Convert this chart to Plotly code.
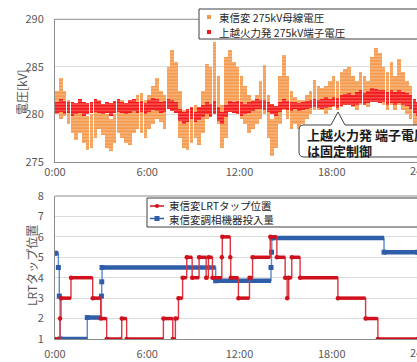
import plotly.graph_objects as go

W, H = 417, 362

# ---------------- top chart: 15-minute bins (start hour), spread of scattered 1-min values
HOURS = [0.0, 0.25, 0.5, 0.75, 1.0, 1.25, 1.5, 1.75, 2.0, 2.25, 2.5, 2.75, 3.0, 3.25, 3.5, 3.75,
         4.0, 4.25, 4.5, 4.75, 5.0, 5.25, 5.5, 5.75, 6.0, 6.25, 6.5, 6.75, 7.0, 7.25, 7.5, 7.75,
         8.0, 8.25, 8.5, 8.75, 9.0, 9.25, 9.5, 9.75, 10.0, 10.25, 10.5, 10.75, 11.0, 11.25, 11.5, 11.75,
         12.0, 12.25, 12.5, 12.75, 13.0, 13.25, 13.5, 13.75, 14.0, 14.25, 14.5, 14.75, 15.0, 15.25, 15.5, 15.75,
         16.0, 16.25, 16.5, 16.75, 17.0, 17.25, 17.5, 17.75, 18.0, 18.25, 18.5, 18.75, 19.0, 19.25, 19.5, 19.75,
         20.0, 20.25, 20.5, 20.75, 21.0, 21.25, 21.5, 21.75, 22.0, 22.25, 22.5, 22.75, 23.0, 23.25, 23.5]

# 東信変 275kV母線電圧 (low / high per bin)
TOSHIN_LO = [280.0, 279.5, 279.8, 279.0, 278.0, 277.3, 278.0, 277.0, 276.3, 276.5, 277.5, 278.5, 277.8, 276.5, 276.2, 277.0,
             278.0, 277.5, 277.0, 276.8, 278.0, 278.5, 278.0, 277.5, 278.5, 279.0, 279.5, 279.2, 278.5, 281.0, 281.5, 280.5,
             277.5, 276.5, 276.3, 277.0, 277.5, 276.8, 278.0, 279.5, 280.0, 281.0, 279.0, 276.5, 277.5, 280.5, 281.0, 280.5,
             279.5, 279.0, 278.0, 278.5, 279.0, 279.5, 280.0, 277.5, 275.6, 276.5, 279.0, 280.5, 279.5, 278.5, 279.0, 278.5,
             279.0, 279.5, 280.0, 280.5, 280.5, 280.5, 280.0, 280.5, 280.8, 280.5, 280.8, 281.0, 281.0, 280.8, 280.5, 281.0,
             281.0, 280.8, 281.5, 282.0, 281.5, 281.0, 280.5, 281.0, 280.5, 281.0, 280.5, 280.0, 279.5, 278.0, 277.0]
TOSHIN_HI = [282.5, 283.8, 282.5, 281.5, 281.3, 280.8, 281.0, 280.5, 279.8, 280.0, 280.8, 281.5, 280.5, 280.0, 279.5, 280.0,
             281.0, 281.5, 281.0, 280.5, 281.5, 282.0, 282.3, 281.5, 282.0, 283.0, 283.8, 282.5, 282.0, 285.0, 286.8, 285.5,
             282.5, 280.5, 280.0, 280.8, 281.0, 280.5, 282.5, 285.3, 285.0, 287.6, 284.0, 281.0, 286.0, 286.8, 285.5, 285.0,
             284.0, 283.0, 282.0, 281.5, 282.0, 283.5, 285.2, 282.0, 279.5, 280.0, 284.0, 286.3, 284.0, 282.5, 281.8, 281.5,
             281.5, 282.0, 282.5, 283.6, 283.0, 282.8, 283.0, 283.5, 284.0, 283.5, 284.5, 284.8, 285.0, 284.0, 283.5, 284.5,
             284.0, 283.5, 286.0, 287.0, 286.5, 285.0, 284.5, 285.5, 284.0, 285.8, 284.5, 283.5, 283.0, 281.5, 280.5]

# 上越火力発 275kV端子電圧 (low / high per bin)
JOETSU_LO = [280.2, 280.3, 280.0, 280.2, 279.8, 280.0, 280.2, 279.8, 280.0, 280.2, 280.3, 280.2, 280.0, 280.2, 279.8, 280.2,
             280.3, 280.2, 280.0, 280.2, 280.4, 280.2, 280.3, 280.0, 280.3, 280.5, 280.4, 280.2, 280.3, 280.6, 280.4, 280.2,
             279.3, 279.0, 279.2, 279.5, 279.2, 279.4, 279.7, 280.0, 279.7, 280.0, 279.3, 279.0, 279.7, 280.3, 280.2, 280.0,
             279.8, 280.0, 280.2, 280.4, 280.6, 280.6, 280.5, 280.3, 280.0, 279.8, 280.3, 280.6, 280.5, 280.4, 280.6, 280.4,
             280.5, 280.6, 280.7, 280.8, 280.7, 280.6, 280.7, 280.8, 280.9, 280.7, 280.9, 281.0, 281.0, 280.9, 281.0, 281.2,
             281.0, 281.2, 281.3, 281.3, 281.2, 281.3, 281.0, 281.2, 281.0, 281.2, 281.0, 280.9, 280.6, 280.2, 279.8]
JOETSU_HI = [281.3, 281.6, 281.4, 281.3, 281.3, 281.2, 281.6, 281.3, 281.2, 281.3, 281.6, 281.4, 281.1, 281.3, 281.2, 281.4,
             281.6, 281.3, 281.2, 281.5, 281.6, 281.3, 281.4, 281.2, 281.5, 281.7, 281.6, 281.3, 281.4, 281.6, 281.5, 281.3,
             280.6, 280.3, 280.6, 280.8, 280.3, 280.8, 281.0, 281.3, 281.1, 281.4, 280.8, 280.3, 281.0, 281.4, 281.3, 281.4,
             281.3, 281.1, 281.3, 281.4, 281.6, 281.5, 281.5, 281.3, 281.1, 280.9, 281.3, 281.6, 281.4, 281.3, 281.3, 281.2,
             281.3, 281.4, 281.5, 281.6, 281.5, 281.6, 281.8, 281.6, 281.8, 281.7, 282.0, 282.1, 282.3, 282.0, 282.4, 282.6,
             282.3, 282.5, 282.8, 282.7, 282.6, 282.6, 282.4, 282.6, 282.4, 282.6, 282.4, 282.3, 282.0, 281.6, 281.3]

# ---------------- bottom chart: step series (time of change [h], value)
LRT_T = [0, 0.33, 0.39, 1.04, 2.45, 2.97, 3.36, 4.34, 4.66, 7.05, 7.66, 7.83, 8.03, 8.30, 8.57, 8.92,
         9.37, 9.83, 9.98, 10.24, 10.85, 10.88, 11.40, 11.43, 11.93, 12.65, 12.85, 14.00, 14.43, 14.97,
         15.10, 15.20, 15.40, 15.94, 18.40, 20.20, 21.00, 23.60]
LRT_V = [1, 2, 3, 4, 3, 2, 1, 2, 1, 2, 1, 2, 3, 4, 5, 4,
         5, 4, 5, 4, 5, 6, 5, 4, 3, 4, 5, 6, 5, 4,
         3, 4, 5, 4, 3, 2, 1, 1]
SC_T = [0, 0.22, 0.28, 0.33, 2.10, 3.02, 3.04, 3.06, 10.45, 14.05, 14.08, 14.10, 21.40, 23.60]
SC_V = [5.2, 4.5, 3.1, 1.0, 2.05, 3.1, 3.8, 4.5, 3.85, 4.5, 5.25, 5.95, 5.25, 5.25]

X_TICKS = [0, 6, 12, 18]
X_LABELS = ["0:00", "6:00", "12:00", "18:00"]
TOP_YTICKS = [275, 280, 285, 290]
BOT_YTICKS = [1, 2, 3, 4, 5, 6, 7, 8]

NAME_TOSHIN = "東信変 275kV母線電圧"
NAME_JOETSU = "上越火力発 275kV端子電圧"
NAME_LRT = "東信変LRTタップ位置"
NAME_SC = "東信変調相機器投入量"
CALLOUT = ["上越火力発 端子電圧", "は固定制御"]

ORANGE = "#F59B50"
RED_PT = "#F21A1A"
RED_H = "#D0101C"
RED_V = "#DD3540"
BLUE_H = "#2F5EA8"
BLUE_V = "#5A8BD0"
AXIS = "#8C8C8C"
GRID = "#DCDCDC"
TXT = "#595959"
FONT = "Noto Sans CJK JP"

# pixel geometry helpers
PL, PR = 55, 417            # plot left / visible right
PX_PER_H = 15.375           # 0:00 at x=55, 24:00 at x=424 (cropped)
X_END = (PR - PL) / PX_PER_H


def px(x):
    return x / W


def py(y):
    return (H - y) / H


fig = go.Figure()

dots = dict(shape="-", fgcolor="white", size=3.2, solidity=0.22, fillmode="overlay")
fig.add_trace(go.Bar(x=HOURS, y=[h - l for l, h in zip(TOSHIN_LO, TOSHIN_HI)], base=TOSHIN_LO,
                     width=0.235, offset=0.008,
                     marker=dict(color=ORANGE, line=dict(width=0), pattern=dots),
                     name=NAME_TOSHIN, showlegend=False, xaxis="x", yaxis="y"))
fig.add_trace(go.Bar(x=HOURS, y=[h - l for l, h in zip(JOETSU_LO, JOETSU_HI)], base=JOETSU_LO,
                     width=0.235, offset=0.008,
                     marker=dict(color=RED_PT, line=dict(width=0), pattern=dots),
                     name=NAME_JOETSU, showlegend=False, xaxis="x", yaxis="y"))


def step_traces(T, V, col_h, col_v, wh, symbol, msize, name):
    hx, hy = [], []
    for i in range(len(T) - 1):
        hx += [T[i], T[i + 1], None]
        hy += [V[i], V[i], None]
    return [
        go.Scatter(x=T, y=V, mode="lines", line=dict(color=col_v, width=1.4, shape="hv"),
                   showlegend=False, name=name, xaxis="x2", yaxis="y2", hoverinfo="skip"),
        go.Scatter(x=hx, y=hy, mode="lines", line=dict(color=col_h, width=wh),
                   showlegend=False, name=name, xaxis="x2", yaxis="y2", hoverinfo="skip"),
        go.Scatter(x=T, y=V, mode="markers", marker=dict(color=col_h, size=msize, symbol=symbol),
                   showlegend=False, name=name, xaxis="x2", yaxis="y2"),
    ]


for tr in step_traces(SC_T, SC_V, BLUE_H, BLUE_V, 4.5, "square", 5, NAME_SC):
    fig.add_trace(tr)
for tr in step_traces(LRT_T, LRT_V, RED_H, RED_V, 3.5, "circle", 4.5, NAME_LRT):
    fig.add_trace(tr)

tickfont = dict(family=FONT, size=11, color=TXT)
xcommon = dict(range=[0, X_END], domain=[px(PL), 1], tickvals=X_TICKS, ticktext=X_LABELS,
               showgrid=False, zeroline=False, showline=True, linecolor=AXIS, linewidth=1,
               ticks="", tickfont=tickfont, ticklabeloverflow="allow", fixedrange=True)

fig.update_layout(
    width=W, height=H, margin=dict(l=0, r=0, t=0, b=0, autoexpand=False),
    paper_bgcolor="white", plot_bgcolor="white", barmode="overlay", bargap=0,
    font=dict(family=FONT, size=11, color=TXT), showlegend=False,
    xaxis=dict(**xcommon, anchor="y", ticklabelstandoff=0),
    yaxis=dict(domain=[py(162), py(19.3)], range=[275, 290], tickvals=TOP_YTICKS,
               showgrid=True, gridcolor=GRID, zeroline=False, showline=True, linecolor=AXIS,
               ticks="", tickfont=tickfont, ticklabelstandoff=8, anchor="x", fixedrange=True),
    xaxis2=dict(**xcommon, anchor="y2", ticklabelstandoff=5),
    yaxis2=dict(domain=[py(339), py(196)], range=[1, 8], tickvals=BOT_YTICKS,
                showgrid=True, gridcolor=GRID, zeroline=False, showline=True, linecolor=AXIS,
                ticks="", tickfont=tickfont, ticklabelstandoff=8, anchor="x2", fixedrange=True),
)

shapes = []
shapes.append(dict(type="line", xref="paper", yref="paper", x0=px(PL), x1=1.1, y0=py(19.3), y1=py(19.3),
                   line=dict(color=AXIS, width=1), layer="above"))
shapes.append(dict(type="line", xref="paper", yref="paper", x0=px(PL), x1=1.1, y0=py(196), y1=py(196),
                   line=dict(color=AXIS, width=1), layer="above"))
shapes.append(dict(type="rect", xref="paper", yref="paper", x0=px(199), x1=px(440), y0=py(39), y1=py(9),
                   fillcolor="white", line=dict(color="#404040", width=1), layer="above"))
shapes.append(dict(type="rect", xref="paper", yref="paper", x0=px(147), x1=px(440), y0=py(227), y1=py(198),
                   fillcolor="white", line=dict(color="#404040", width=1), layer="above"))
for yy, col in [(17, ORANGE), (32, RED_PT)]:
    shapes.append(dict(type="rect", xref="paper", yref="paper", x0=px(207), x1=px(211), y0=py(yy + 2), y1=py(yy - 2),
                       fillcolor=col, line=dict(width=0), layer="above"))
shapes.append(dict(type="line", xref="paper", yref="paper", x0=px(150), x1=px(164), y0=py(206), y1=py(206),
                   line=dict(color=RED_H, width=1.5), layer="above"))
shapes.append(dict(type="circle", xref="paper", yref="paper", x0=px(155), x1=px(159), y0=py(208), y1=py(204),
                   fillcolor=RED_H, line=dict(width=0), layer="above"))
shapes.append(dict(type="line", xref="paper", yref="paper", x0=px(150), x1=px(164), y0=py(218.5), y1=py(218.5),
                   line=dict(color=BLUE_H, width=1.5), layer="above"))
shapes.append(dict(type="rect", xref="paper", yref="paper", x0=px(154.5), x1=px(159.5), y0=py(221), y1=py(216),
                   fillcolor=BLUE_H, line=dict(width=0), layer="above"))

pts = [("M", 304, 125), ("L", 331, 125), ("L", 338, 112), ("L", 345, 125), ("L", 440, 125),
       ("L", 440, 157), ("L", 304, 157)]
path = " ".join(f"{c} {px(x):.5f},{py(y):.5f}" for c, x, y in pts)
path += f" Q {px(299):.5f},{py(157):.5f} {px(299):.5f},{py(152):.5f}"
path += f" L {px(299):.5f},{py(130):.5f}"
path += f" Q {px(299):.5f},{py(125):.5f} {px(304):.5f},{py(125):.5f} Z"
shapes.append(dict(type="path", xref="paper", yref="paper", path=path, fillcolor="white",
                   line=dict(color="#404040", width=1), layer="above"))
fig.update_layout(shapes=shapes)

ann = []
lfont = dict(family=FONT, size=10.5, color="#262626")
for (name, x0, yy) in [(NAME_TOSHIN, 217, 17), (NAME_JOETSU, 217, 32), (NAME_LRT, 167, 205.5), (NAME_SC, 167, 219)]:
    ann.append(dict(text=name, x=px(x0), y=py(yy), xref="paper", yref="paper", xanchor="left",
                    yanchor="middle", showarrow=False, font=lfont))
cfont = dict(family=FONT, size=13, color="#1a1a1a", weight="bold")
for line, yy in zip(CALLOUT, [134.5, 150.5]):
    ann.append(dict(text=line, x=px(305), y=py(yy), xref="paper", yref="paper", xanchor="left",
                    yanchor="middle", showarrow=False, font=cfont))
ann.append(dict(text="電圧[kV]", x=px(21), y=py(92), xref="paper", yref="paper", textangle=-90,
                showarrow=False, font=dict(family=FONT, size=12, color=TXT), xanchor="center", yanchor="middle"))
ann.append(dict(text="LRTタップ位置", x=px(31), y=py(266), xref="paper", yref="paper", textangle=-90,
                showarrow=False, font=dict(family=FONT, size=12, color=TXT), xanchor="center", yanchor="middle"))
for yy in [170, 352]:
    ann.append(dict(text="24:00", x=px(PL + 24 * PX_PER_H), y=py(yy), xref="paper", yref="paper",
                    xanchor="center", yanchor="middle", showarrow=False, font=tickfont))
fig.update_layout(annotations=ann)

fig.write_html("out.html", config={"displayModeBar": False, "staticPlot": True},
               post_script="document.body.style.margin='0';document.body.style.overflow='hidden';")
